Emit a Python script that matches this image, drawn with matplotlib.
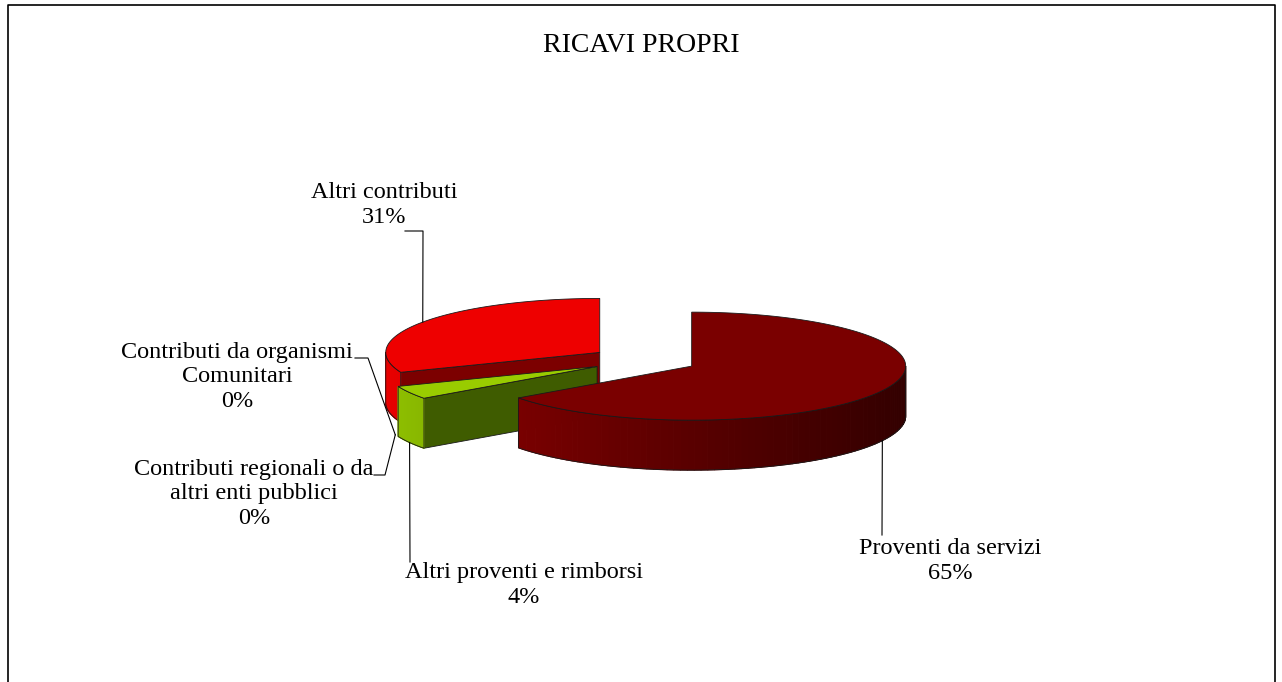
import numpy as np
import matplotlib.pyplot as plt
from matplotlib.patches import Polygon
from matplotlib.colors import to_rgb

# --- data ---
categories = ['Proventi da servizi', 'Altri proventi e rimborsi',
              'Contributi regionali o da\naltri enti pubblici',
              'Contributi da organismi\nComunitari', 'Altri contributi']
values = [65, 4, 0, 0, 31]
top_colors = ['#7a0000', '#99cc00', '#4f81bd', '#c0504d', '#ee0000']
wall_colors = ['#800000', '#90c200', '#4f81bd', '#c0504d', '#e80000']
cut_colors = ['#4a0000', '#3f5c00', '#4f81bd', '#c0504d', '#7c0000']

# label centres (pixels) and leader elbows
label_pos = [(950, 561), (524, 585), (254, 494), (237, 377), (384, 205)]
leader_start = [(882, 535), (410, 562), (374, 475), (355, 358), (405, 231)]
leader_elbow = [(882, 535), (410, 562), (385, 475), (368, 358), (423, 231)]

# --- pie geometry (pixels) ---
cx, cy = 644, 360
a, b = 214, 54
h = 50
explode = 0.25
draw_order = [4, 3, 2, 1, 0]

plt.rcParams['font.family'] = ['Liberation Serif', 'DejaVu Serif']
fig = plt.figure(figsize=(12.82, 6.82), dpi=100)
ax = fig.add_axes([0, 0, 1, 1])
ax.set_xlim(0, 1282)
ax.set_ylim(682, 0)
ax.axis('off')

total = sum(values)
bounds = np.radians(np.concatenate([[0], np.cumsum(values)]) / total * 360)


def pt(c, th, dz=0.0):
    return (c[0] + a * np.sin(th), c[1] - b * np.cos(th) + dz)


def arc(c, t1, t2, dz=0.0, n=120):
    ts = np.linspace(t1, t2, max(2, int(n * (t2 - t1) / np.pi) + 2))
    return [pt(c, t, dz) for t in ts]


centers = []
for i in range(len(values)):
    mid = (bounds[i] + bounds[i + 1]) / 2
    centers.append((cx + explode * a * np.sin(mid), cy - explode * b * np.cos(mid)))

edge = dict(edgecolor='#1a1a1a', linewidth=0.6)

for i in draw_order:
    t1, t2 = bounds[i], bounds[i + 1]
    if t2 - t1 <= 0:
        continue
    c = centers[i]
    # radial cut faces
    for th, sgn in ((t1, -1), (t2, 1)):
        if np.cos(th + sgn * np.pi / 2) < -1e-6:
            r = pt(c, th)
            poly = [c, r, (r[0], r[1] + h), (c[0], c[1] + h)]
            ax.add_patch(Polygon(poly, closed=True, facecolor=cut_colors[i], **edge))
    # outer wall, shaded strip by strip (darker to the right)
    lo, hi = max(t1, np.pi / 2), min(t2, 3 * np.pi / 2)
    if lo < hi:
        ts = np.linspace(lo, hi, 80)
        base = np.array(to_rgb(wall_colors[i]))
        for k in range(len(ts) - 1):
            s = (np.sin(ts[k]) + 1) / 2
            col = np.clip(base * (1.0 - 0.6 * s), 0, 1)
            p1, p2 = pt(c, ts[k]), pt(c, ts[k + 1])
            poly = [p1, p2, (p2[0], p2[1] + h), (p1[0], p1[1] + h)]
            ax.add_patch(Polygon(poly, closed=True, facecolor=col, edgecolor=col, linewidth=0.8))
        outline = arc(c, lo, hi) + arc(c, lo, hi, h)[::-1]
        ax.add_patch(Polygon(outline, closed=True, facecolor='none', **edge))
    # top face
    top = [c] + arc(c, t1, t2)
    ax.add_patch(Polygon(top, closed=True, facecolor=top_colors[i], **edge))

# labels and leader lines
for i in range(len(values)):
    t1, t2 = bounds[i], bounds[i + 1]
    mid = (t1 + t2) / 2
    c = centers[i]
    anchor = pt(c, mid, h if np.cos(mid) < 0 else 0)
    pct = '%d%%' % round(values[i] / total * 100)
    ax.text(*label_pos[i], categories[i] + '\n' + pct, ha='center', va='center',
            fontsize=17.5, linespacing=1.2, color='black')
    xs = [leader_start[i][0], leader_elbow[i][0], anchor[0]]
    ys = [leader_start[i][1], leader_elbow[i][1], anchor[1]]
    ax.plot(xs, ys, color='black', lw=0.8)

ax.text(641, 46, 'RICAVI PROPRI', ha='center', va='center', fontsize=20)

# outer frame
ax.plot([8, 8, 1275, 1275], [682, 5, 5, 682], color='black', lw=1.2)

fig.savefig('out.png', dpi=100)
